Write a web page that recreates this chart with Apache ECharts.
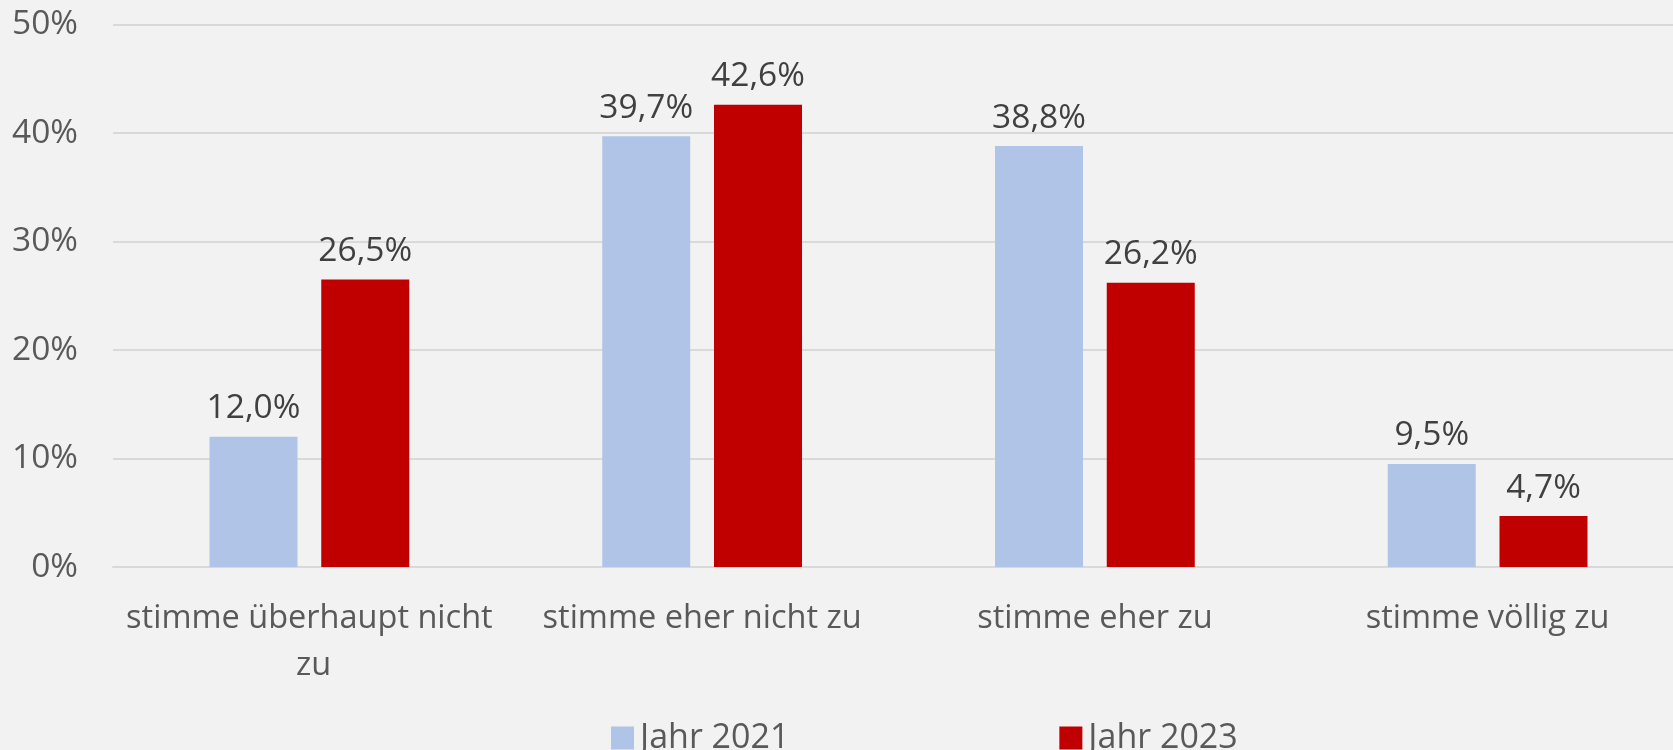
<!DOCTYPE html>
<html>
<head>
<meta charset="utf-8">
<script src="https://cdn.jsdelivr.net/npm/echarts@6/dist/echarts.min.js"></script>
<style>
html,body{margin:0;padding:0;background:#f2f2f2;}
#chart{width:1673px;height:750px;}
</style>
</head>
<body>
<div id="chart"></div>
<script>
const categories = ['stimme überhaupt nicht zu', 'stimme eher nicht zu', 'stimme eher zu', 'stimme völlig zu'];
const seriesNames = ['Jahr 2021', 'Jahr 2023'];
const values2021 = [12.0, 39.7, 38.8, 9.5];
const values2023 = [26.5, 42.6, 26.2, 4.7];
const yTicks = [0, 10, 20, 30, 40, 50];

const FONT = 'Open Sans';
const chart = echarts.init(document.getElementById('chart'));
const labelCfg = {
  show: true,
  position: 'top',
  distance: 11,
  fontFamily: FONT,
  fontSize: 33.5,
  color: '#404040',
  formatter: p => p.value.toFixed(1).replace('.', ',') + '%'
};
chart.setOption({
  backgroundColor: '#f2f2f2',
  animation: false,
  grid: { left: 113, top: 24.5, width: 1571, height: 542.5, outerBoundsMode: 'none' },
  legend: {
    data: seriesNames,
    left: 606,
    top: 716,
    itemWidth: 23,
    itemHeight: 23,
    itemGap: 270,
    icon: 'rect',
    textStyle: { fontFamily: FONT, fontSize: 34, color: '#595959', padding: [0, 0, 0, 1] }
  },
  xAxis: {
    type: 'category',
    data: categories,
    axisLine: { lineStyle: { color: '#d9d9d9', width: 2 } },
    axisTick: { show: false },
    axisLabel: {
      fontFamily: FONT, fontSize: 32.5, color: '#595959',
      margin: 28, lineHeight: 47, width: 385, overflow: 'break', interval: 0
    }
  },
  yAxis: {
    type: 'value',
    min: yTicks[0],
    max: yTicks[yTicks.length - 1],
    interval: 10,
    axisLine: { show: false },
    axisTick: { show: false },
    splitLine: { lineStyle: { color: '#d9d9d9', width: 2 } },
    axisLabel: { fontFamily: FONT, fontSize: 33.5, color: '#595959', margin: 35, formatter: '{value}%' }
  },
  series: [
    { name: seriesNames[0], type: 'bar', data: values2021, barWidth: 88, barGap: '27%',
      itemStyle: { color: '#b0c4e8' }, label: labelCfg },
    { name: seriesNames[1], type: 'bar', data: values2023, barWidth: 88, barGap: '27%',
      itemStyle: { color: '#c00000' }, label: labelCfg }
  ]
});
</script>
</body>
</html>
